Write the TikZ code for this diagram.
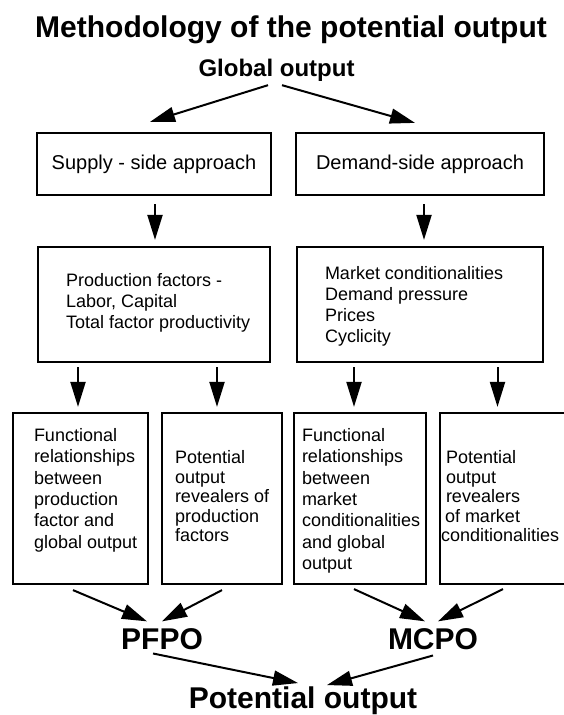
\documentclass[tikz,border=0pt]{standalone}
\usepackage{fontspec}
\setmainfont{Liberation Sans}
\usetikzlibrary{arrows.meta,calc}
\newcommand\pintext[4]{\raisebox{#2}[0pt][0pt]{\makebox[0pt][l]{\hspace*{#1}\vtop{\baselineskip=#3\lineskiplimit=-20pt\lineskip=0pt\relax #4}}}}
\begin{document}
\begin{tikzpicture}[x=1pt,y=-1pt,
  box/.style={draw, line width=2.2pt, inner sep=0pt},
  arr/.style={line width=2pt, -{Triangle[length=25pt,width=15pt]}},
  big/.style={inner sep=0pt, anchor=base, font=\fontsize{30}{36}\selectfont\bfseries},
  body/.style={font=\fontsize{18}{21}\selectfont},
  head/.style={font=\fontsize{20}{24}\selectfont},
]
\fill[white] (0,0) rectangle (563,715);
\useasboundingbox (0,0) rectangle (563,715);

\node[big] (title) at (291,37) {Methodology of the potential output};
\node[inner sep=0pt, anchor=base, font=\fontsize{24}{28}\selectfont\bfseries] (global) at (276.5,76) {Global output};

\node[box, head, minimum width=234pt, minimum height=62pt] (supply) at (154,164) {Supply - side approach};
\node[box, head, minimum width=248pt, minimum height=62pt] (demand) at (420,164) {Demand-side approach};

\node[box, body, minimum width=232pt, minimum height=115pt] (prod) at (154,304.5)
  {\pintext{-88pt}{18pt}{21pt}{\hbox{Production factors -}\hbox{Labor, Capital}\hbox{Total factor productivity}}};
\node[box, body, minimum width=246pt, minimum height=115pt] (market) at (420,304.5)
  {\pintext{-95pt}{25pt}{21pt}{\hbox{Market conditionalities}\hbox{Demand pressure}\hbox{Prices}\hbox{Cyclicity}}};

\node[box, body, minimum width=135pt, minimum height=171pt] (f1) at (80.5,498.5)
  {\pintext{-46.5pt}{57pt}{21.3pt}{\hbox{Functional}\hbox{relationships}\hbox{between}\hbox{production}\hbox{factor and}\hbox{global output}}};
\node[box, body, minimum width=120pt, minimum height=171pt] (f2) at (222,498.5)
  {\pintext{-47pt}{35pt}{19.5pt}{\hbox{Potential}\hbox{output}\hbox{revealers of}\hbox{production}\hbox{factors}}};
\node[box, body, minimum width=132pt, minimum height=171pt] (f3) at (360,498.5)
  {\pintext{-58pt}{57pt}{21.3pt}{\hbox{Functional}\hbox{relationships}\hbox{between}\hbox{market}\hbox{conditionalities}\hbox{and global}\hbox{output}}};
\node[box, body, minimum width=130pt, minimum height=171pt] (f4) at (505,498.5)
  {\pintext{-64pt}{35pt}{19.5pt}{\hbox{\hskip5pt Potential}\hbox{\hskip5pt output}\hbox{\hskip5pt revealers}\hbox{\hskip4pt of market}\hbox{conditionalities}}};

\node[big] (pfpo) at (162,649) {PFPO};
\node[big] (mcpo) at (433,649) {MCPO};
\node[big] (potential) at (303,708) {Potential output};

\draw[arr] ($(global.south)+(-8.5,4)$) -- ($(supply.north)+(-4,-10)$);
\draw[arr] ($(global.south)+(5.5,4)$) -- ($(demand.north)+(-5,-9)$);
\draw[arr] ($(supply.south)+(1,8)$) -- ($(prod.north)+(1,-6)$);
\draw[arr] ($(demand.south)+(4,8)$) -- ($(market.north)+(4,-6)$);
\draw[arr] ($(prod.south)+(-76,4)$) -- ($(f1.north)+(-2.5,-5)$);
\draw[arr] ($(prod.south)+(63,4)$) -- ($(f2.north)+(-5,-5)$);
\draw[arr] ($(market.south)+(-66,4)$) -- ($(f3.north)+(-6,-5)$);
\draw[arr] ($(market.south)+(77.5,4)$) -- ($(f4.north)+(-7.5,-5)$);
\draw[arr] ($(f1.south)+(-7.5,5)$) -- ($(pfpo.north)+(-15,-6.5)$);
\draw[arr] ($(f2.south)+(0,5)$) -- ($(pfpo.north)+(0,-6.5)$);
\draw[arr] ($(f3.south)+(-6,4)$) -- ($(mcpo.north)+(-8,-6.5)$);
\draw[arr] ($(f4.south)+(-2,4)$) -- ($(mcpo.north)+(5,-6.5)$);
\draw[arr] ($(pfpo.south)+(-9,4)$) -- ($(potential.north)+(-5,-3)$);
\draw[arr] ($(mcpo.south)+(0,6)$) -- ($(potential.north)+(24,-1)$);
\end{tikzpicture}
\end{document}
